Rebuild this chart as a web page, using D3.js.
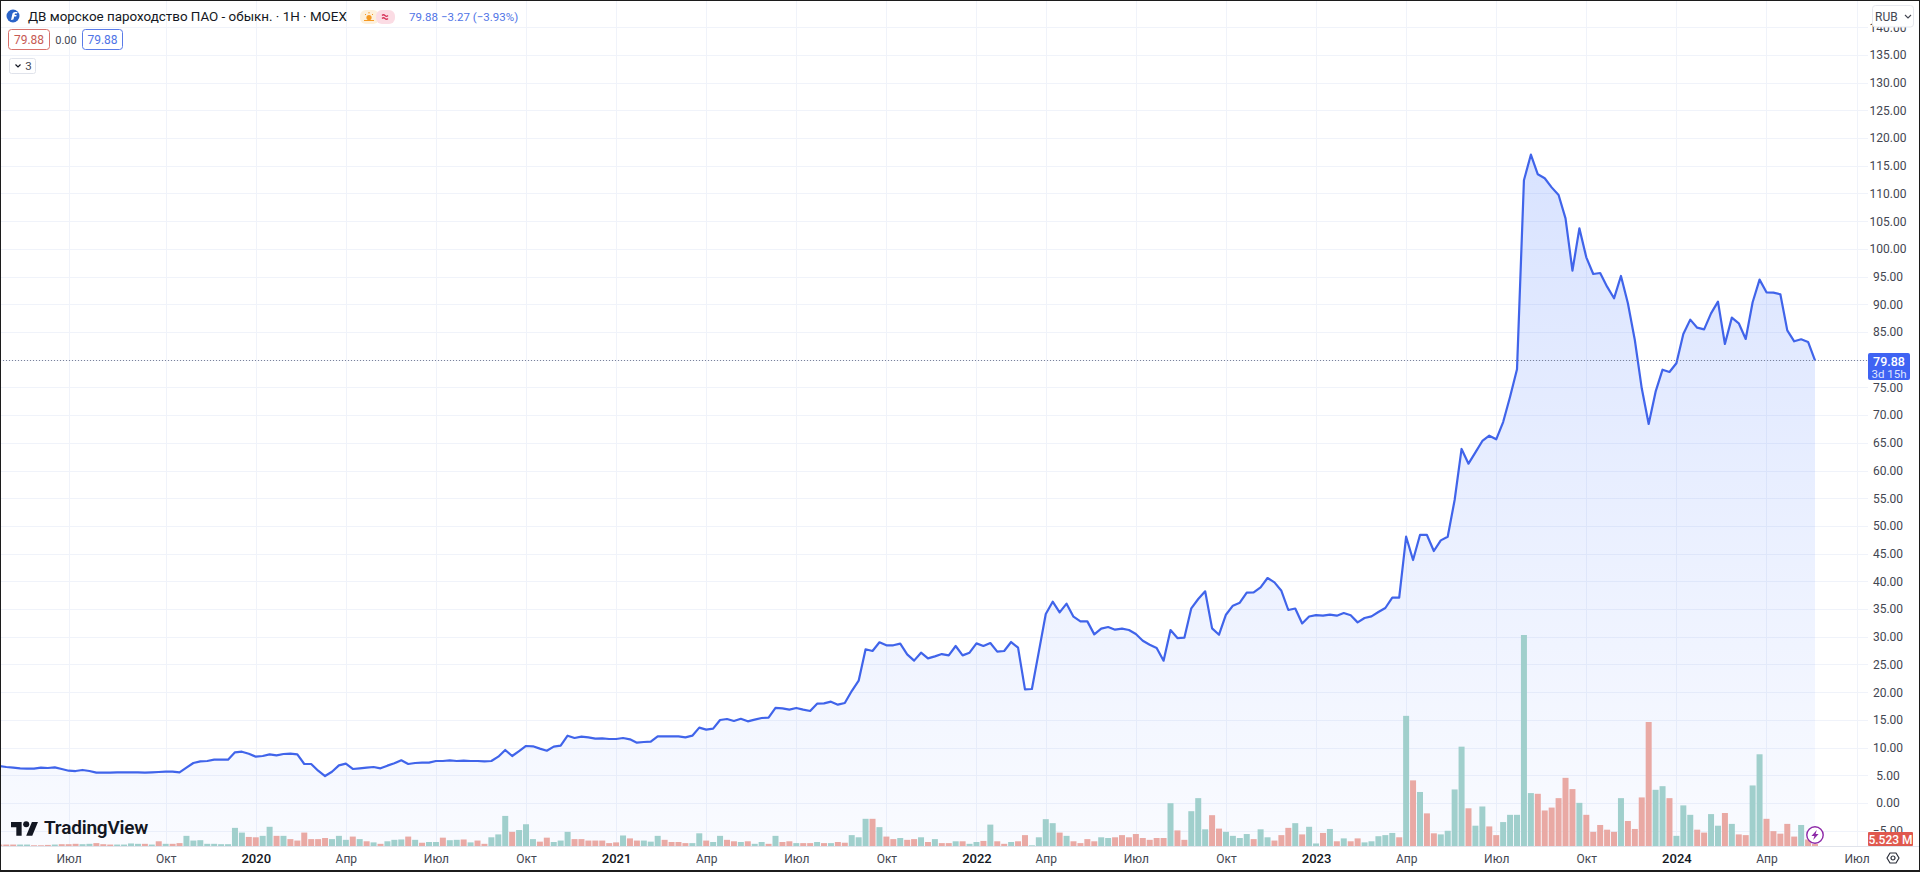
<!DOCTYPE html>
<html lang="ru">
<head>
<meta charset="utf-8">
<title>ДВ морское пароходство ПАО</title>
<script src="https://d3js.org/d3.v7.min.js"></script>
<style>
html,body{margin:0;padding:0;background:#fff;overflow:hidden}
svg{display:block}
text{font-family:Roboto,"Noto Sans",sans-serif}
.tick text{fill:#434651}
</style>
</head>
<body>
<svg id="chart" width="1920" height="872"></svg>
<script>
const titleText = "ДВ морское пароходство ПАО - обыкн. · 1H · MOEX";
const closePrices = [6.68,
6.50,6.38,6.26,6.20,6.20,6.38,6.32,6.44,6.14,5.83,5.77,5.96,5.77,5.47,5.47,5.47,5.53,5.53,5.53,5.53,
5.47,5.53,5.59,5.65,5.65,5.53,6.38,7.22,7.52,7.58,7.82,7.82,7.82,9.14,9.26,8.90,8.36,8.48,8.78,8.60,
8.84,8.90,8.78,7.04,7.04,5.83,4.87,5.65,6.80,7.10,6.14,6.26,6.38,6.50,6.26,6.74,7.16,7.70,7.04,7.22,
7.28,7.28,7.58,7.58,7.70,7.58,7.64,7.58,7.58,7.52,7.58,8.36,9.57,8.48,9.38,10.29,10.23,9.81,9.44,10.17,10.35,
12.15,11.73,11.97,11.85,11.61,11.67,11.55,11.55,11.73,11.49,10.89,11.01,11.07,12.03,12.03,12.03,12.03,11.85,12.15,
13.60,13.24,13.42,14.98,15.16,14.80,15.20,14.74,15.04,15.34,15.40,17.15,17.09,16.85,17.15,16.85,16.60,17.93,17.99,18.29,
17.75,18.05,20.20,22.08,27.74,27.44,29.00,28.46,28.46,28.76,26.83,25.69,27.13,26.10,26.46,26.88,26.64,28.33,26.64,27.13,
28.81,28.33,28.87,27.31,27.43,29.05,28.03,20.51,20.57,27.31,34.10,36.33,34.41,35.97,33.62,32.78,32.78,30.43,31.46,31.76,
31.28,31.46,31.22,30.49,29.29,28.57,27.97,25.68,31.22,29.77,29.83,35.13,36.81,38.20,31.52,30.37,33.98,35.61,36.15,37.96,
38.01,38.92,40.60,39.82,38.30,34.83,35.10,32.40,33.65,33.90,33.81,33.99,33.81,34.29,33.87,32.60,33.39,33.69,34.47,35.19,
37.06,37.06,48.06,43.85,48.37,48.37,45.48,47.40,48.06,54.68,63.89,61.24,63.28,65.33,66.29,65.63,68.75,73.30,78.26,112.40,
117.00,113.46,112.74,111.10,109.73,105.50,96.07,103.70,98.48,95.47,95.65,93.18,91.08,95.11,90.18,83.56,74.84,68.40,74.23,78.20,
77.78,79.35,84.64,87.23,85.78,85.48,88.37,90.48,82.84,87.59,86.57,83.74,90.36,94.45,92.16,92.10,91.80,85.30,83.32,83.68,83.20,79.88];

const volumesM = [4,
4,4,4,4,2,2,3,4,5,5,6,5,6,8,5,4,4,4,7,6,6,4,13,6,6,8,28,15,16,6,6,5,5,50,37,25,24,28,53,28,28,19,15,37,19,19,22,19,28,17,26,19,13,10,6,13,17,18,26,17,9,11,11,23,16,17,18,10,15,6,24,32,83,39,44,60,19,12,23,11,15,39,19,19,15,15,15,8,10,29,21,15,
15,12,28,17,11,11,8,8,35,15,11,28,17,13,11,13,6,11,6,28,11,13,8,8,8,11,8,8,11,9,30,24,75,75,52,26,19,22,17,19,24,11,19,8,8,13,13,6,11,14,59,13,6,11,13,30,2,24,74,63,37,28,13,8,19,13,24,22,24,30,24,33,22,17,22,22,118,43,17,96,132,46,85,48,39,28,22,33,19,46,24,15,
30,50,63,32,53,7,36,47,13,21,13,21,10,13,27,30,36,24,359,181,149,90,35,32,42,156,274,104,56,109,54,30,66,86,86,582,146,144,98,106,132,188,157,119,86,39,58,45,39,132,69,47,134,342,155,165,132,28,112,86,45,37,88,56,91,61,32,30,167,253,75,41,34,61,26,58,18,5.523];

// g = рост, r = падение, по неделям
const volumeDirections = ("r"+
"rrggrrrgrr"+"rggrrrgggg"+"rgrgrrgggg"+"gggggrrggr"+"grrrrrrggg"+"rgrgrgggrg"+"rggrggrgrr"+"gggrgggrrg"+"ggrrrrrrrg"+"rr"+
"gggrrrrg"+"grggrrgrgg"+"rgrrgrrgrg"+"rrgggrgrrg"+"rrgrgrrgrg"+"grgrrgrrgg"+"ggrgrrrrgg"+"rrrrrrrrgr"+"rgggrrgggg"+
"rggrrrgrgg"+"rgrgrrgggg"+"grgrgrrggg"+"grggrrgggg"+"grrrrrrgrr"+"rrrgrrrrgg"+"rgggrrggrg"+"rrggrrrrrg"+"rr").split("");

const timeTickIndex = [10,24,37,50,63,76,89,102,115,128,141,151,164,177,190,203,216,229,242,255,268];
const timeTickLabel = ["Июл","Окт","2020","Апр","Июл","Окт","2021","Апр","Июл","Окт","2022","Апр","Июл","Окт","2023","Апр","Июл","Окт","2024","Апр","Июл"];
const priceTicks = d3.range(-5,141,5);
const lastPrice = 79.88;

const svg = d3.select("#chart");
const W = 1920, H = 872, plotRight = 1868, paneBottom = 846;

const x = d3.scaleLinear().domain([0, closePrices.length-1]).range([1815-6.93*(closePrices.length-1), 1815]);
const yPrice = d3.scaleLinear().domain([0,85]).range([803,332]);
const yVol = d3.scaleLinear().domain([0,582]).range([paneBottom,635]);

const defs = svg.append("defs");
const grad = defs.append("linearGradient").attr("id","areaFill")
  .attr("gradientUnits","userSpaceOnUse").attr("x1",0).attr("x2",0)
  .attr("y1",yPrice(117)).attr("y2",paneBottom);
grad.append("stop").attr("offset",0).attr("stop-color","#2962ff").attr("stop-opacity",0.18);
grad.append("stop").attr("offset",1).attr("stop-color","#2962ff").attr("stop-opacity",0.025);

svg.append("rect").attr("width",W).attr("height",H).attr("fill","#fff");

// сетка
const grid = svg.append("g").attr("stroke","#f0f3fa").attr("stroke-width",1);
grid.selectAll("line.h").data(priceTicks).join("line").attr("class","h")
  .attr("x1",0).attr("x2",plotRight)
  .attr("y1",d=>Math.round(yPrice(d))+.5).attr("y2",d=>Math.round(yPrice(d))+.5);
grid.selectAll("line.v").data(timeTickIndex).join("line").attr("class","v")
  .attr("y1",0).attr("y2",paneBottom)
  .attr("x1",d=>Math.round(x(d))+.5).attr("x2",d=>Math.round(x(d))+.5);

const pts = closePrices.map((v,i)=>[i,v]);
svg.append("path").datum(pts).attr("fill","url(#areaFill)")
  .attr("d",d3.area().x(d=>x(d[0])).y0(paneBottom).y1(d=>yPrice(d[1])));

// объём
svg.append("g").selectAll("rect").data(volumesM).join("rect")
  .attr("x",(d,i)=>x(i)-3).attr("width",6)
  .attr("y",d=>yVol(d)).attr("height",d=>paneBottom-yVol(d))
  .attr("fill",(d,i)=>volumeDirections[i]==="g"?"#a0cfcc":"#e9a9a4");

// нижняя граница панели
svg.append("line").attr("x1",0).attr("x2",W).attr("y1",846.5).attr("y2",846.5).attr("stroke","#e0e3eb");

// линия цены
svg.append("path").datum(pts).attr("fill","none").attr("stroke","#4064ea").attr("stroke-width",2.2)
  .attr("stroke-linejoin","round")
  .attr("d",d3.line().x(d=>x(d[0])).y(d=>yPrice(d[1])));

// линия текущей цены
svg.append("line").attr("x1",0).attr("x2",plotRight)
  .attr("y1",Math.floor(yPrice(lastPrice))+.5).attr("y2",Math.floor(yPrice(lastPrice))+.5)
  .attr("stroke","#7b8299").attr("stroke-width",1).attr("stroke-dasharray","1 2");

// оси
const yAxis = svg.append("g").attr("transform","translate(1868,0)")
  .call(d3.axisRight(yPrice).tickValues(priceTicks).tickSize(0).tickPadding(0).tickFormat(d3.format(".2f")));
yAxis.select(".domain").remove();
yAxis.selectAll("text").attr("x",20).attr("text-anchor","middle").attr("font-size",12).attr("font-family","Roboto,sans-serif");

const xAxis = svg.append("g").attr("transform","translate(0,846)")
  .call(d3.axisBottom(x).tickValues(timeTickIndex).tickSize(0).tickPadding(0)
    .tickFormat(d=>timeTickLabel[timeTickIndex.indexOf(d)]));
xAxis.select(".domain").remove();
xAxis.selectAll("text").attr("y",8).attr("font-size",12).attr("font-family","Roboto,sans-serif")
  .each(function(d,i){
    const isYear = /^\d{4}$/.test(timeTickLabel[i]);
    d3.select(this).attr("font-weight",isYear?500:400).style("fill",isYear?"#131722":"#434651").attr("font-size",isYear?13:12);
  });

// ярлык цены
svg.append("rect").attr("x",1868).attr("y",353).attr("width",42).attr("height",27).attr("rx",2).attr("fill","#3f63f3");
svg.append("text").attr("x",1889).attr("y",365.5).attr("text-anchor","middle").attr("font-size",12.5).attr("font-weight",500).attr("fill","#fff").text("79.88");
svg.append("text").attr("x",1889).attr("y",377.5).attr("text-anchor","middle").attr("font-size",11.5).attr("fill","#dfe6ff").text("3d 15h");

// ярлык объёма
svg.append("rect").attr("x",1868).attr("y",832).attr("width",45).attr("height",14).attr("rx",1).attr("fill","#e0584e");
svg.append("text").attr("x",1890.5).attr("y",843.5).attr("text-anchor","middle").attr("font-size",12).attr("font-weight",500).attr("fill","#fff").text("5.523 M");

// значок-молния
const bolt = svg.append("g").attr("transform","translate(1815,835)");
bolt.append("circle").attr("r",8.2).attr("fill","#fff").attr("stroke","#8e2aa8").attr("stroke-width",1.4);
bolt.append("path").attr("d","M1.8-5 L-3.6 1 L-0.6 1 L-1.8 5 L3.6-1 L0.6-1 Z").attr("fill","#8e2aa8");

// шестерёнка
const gear = svg.append("g").attr("transform","translate(1893,858)").attr("fill","none").attr("stroke","#2a2e39").attr("stroke-width",1.2);
gear.append("path").attr("d","M-6 0 L-3 -5 L3 -5 L6 0 L3 5 L-3 5 Z").attr("stroke-linejoin","round");
gear.append("circle").attr("r",2);

// заголовок
const head = svg.append("g");
head.append("circle").attr("cx",13).attr("cy",16).attr("r",6.5).attr("fill","#2a63c8");
head.append("path").attr("d","M11 20 L12.5 13.5 Q13 12 15 12 L17.5 12 L17 13.5 L15 13.5 L14.6 15 L16.6 15 L16.2 16.5 L14.2 16.5 L13.4 19.5 Z").attr("fill","#fff");
head.append("text").attr("x",28).attr("y",21).attr("font-size",13.4).attr("fill","#131722").text(titleText);
head.append("rect").attr("x",360).attr("y",10).attr("width",19).attr("height",14).attr("fill","#fdf0dc").attr("rx",6);
head.append("rect").attr("x",376).attr("y",10).attr("width",19).attr("height",14).attr("fill","#fbdce4").attr("rx",6);
head.append("circle").attr("cx",369).attr("cy",17.5).attr("r",2.6).attr("fill","#f59a23");
head.append("path").attr("d","M364 20.5 L374 20.5 M369 12 L369 13.5 M365 14 L366 15 M373 14 L372 15").attr("stroke","#f59a23").attr("stroke-width",1);
head.append("path").attr("d","M382 15.5 q1.5-1.5 3 0 t3 0 M382 18.5 q1.5-1.5 3 0 t3 0").attr("stroke","#d6335a").attr("stroke-width",1.2).attr("fill","none");
head.append("text").attr("x",409).attr("y",20.5).attr("font-size",11.5).attr("fill","#4f74e6").text("79.88");
head.append("text").attr("x",441).attr("y",20.5).attr("font-size",11.5).attr("fill","#4f74e6").text("−3.27 (−3.93%)");

head.append("rect").attr("x",8.5).attr("y",29.5).attr("width",41).attr("height",20).attr("rx",3).attr("fill","#fff").attr("stroke","#d9706a");
head.append("text").attr("x",29).attr("y",44).attr("text-anchor","middle").attr("font-size",12).attr("fill","#c65a54").text("79.88");
head.append("text").attr("x",66).attr("y",44).attr("text-anchor","middle").attr("font-size",11).attr("fill","#434651").text("0.00");
head.append("rect").attr("x",82.5).attr("y",29.5).attr("width",40).attr("height",20).attr("rx",3).attr("fill","#fff").attr("stroke","#5a7be8");
head.append("text").attr("x",102.5).attr("y",44).attr("text-anchor","middle").attr("font-size",12).attr("fill","#4f74e6").text("79.88");
head.append("rect").attr("x",9.5).attr("y",58.5).attr("width",26).attr("height",15).attr("rx",2).attr("fill","#fff").attr("stroke","#e0e3eb");
head.append("path").attr("d","M15.5 64.5 L18 67 L20.5 64.5").attr("fill","none").attr("stroke","#131722").attr("stroke-width",1.2);
head.append("text").attr("x",28.5).attr("y",70).attr("text-anchor","middle").attr("font-size",11.5).attr("fill","#434651").text("3");

// RUB
svg.append("rect").attr("x",1872.5).attr("y",5.5).attr("width",41).attr("height",21.5).attr("rx",3).attr("fill","#fff").attr("stroke","#e6e8ee");
svg.append("text").attr("x",1875).attr("y",20.5).attr("font-size",12).attr("fill","#434651").text("RUB");
svg.append("path").attr("d","M1905 15 L1908 18 L1911 15").attr("fill","none").attr("stroke","#434651").attr("stroke-width",1.1);

// логотип
const logo = svg.append("g").attr("transform","translate(11,819) scale(0.76)").attr("fill","#131722");
logo.append("path").attr("d","M14 22H7V11H0V4h14v18zM28 22h-8l7.5-18h8L28 22z");
logo.append("circle").attr("cx",20).attr("cy",7).attr("r",4);
svg.append("text").attr("x",44).attr("y",834).attr("font-family","Inter,Roboto,sans-serif").attr("font-size",19).attr("font-weight",600).attr("letter-spacing","-0.2").attr("fill","#131722").text("TradingView");

// рамка
svg.append("rect").attr("x",0).attr("y",0).attr("width",W).attr("height",H).attr("fill","none").attr("stroke","#1c1c1c").attr("stroke-width",2);
svg.append("line").attr("x1",0).attr("x2",W).attr("y1",871).attr("y2",871).attr("stroke","#1c1c1c").attr("stroke-width",2);
</script>
</body>
</html>
